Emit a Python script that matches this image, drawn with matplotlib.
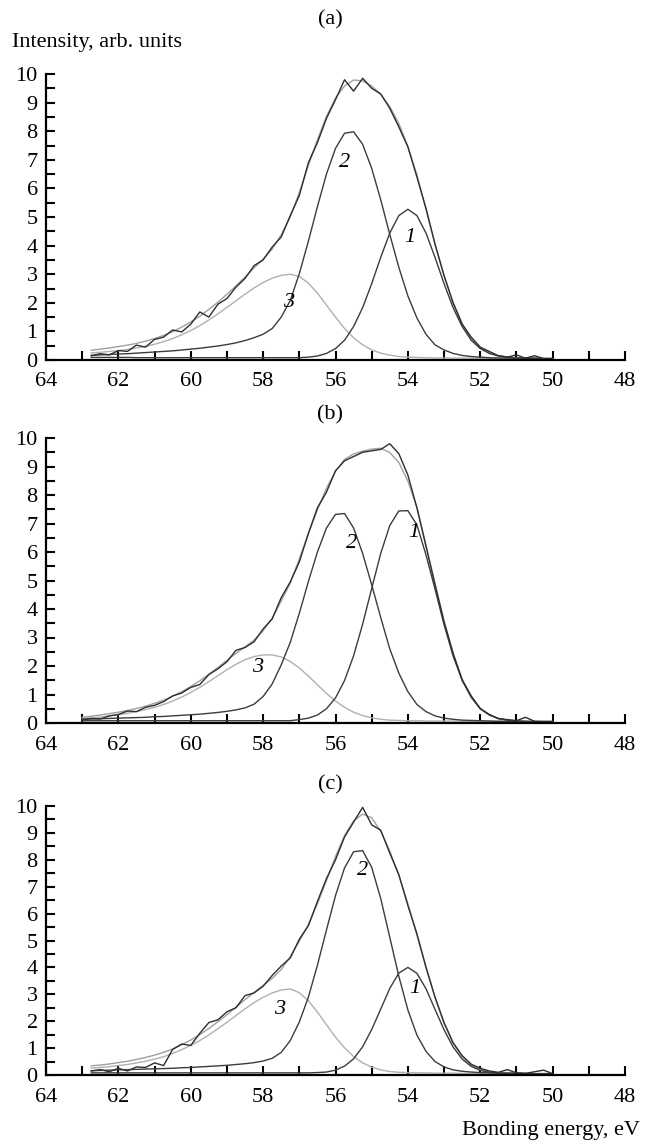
import numpy as np
import matplotlib
matplotlib.use("Agg")
import matplotlib.pyplot as plt
from matplotlib.ticker import MultipleLocator

plt.rcParams['font.family'] = ['Liberation Serif', 'DejaVu Serif']

nan = float('nan')

# Bonding energy grid (eV), left to right on the plot
energy = [63.0, 62.75, 62.5, 62.25, 62.0, 61.75, 61.5, 61.25, 61.0, 60.75, 60.5, 60.25,
          60.0, 59.75, 59.5, 59.25, 59.0, 58.75, 58.5, 58.25, 58.0, 57.75, 57.5, 57.25,
          57.0, 56.75, 56.5, 56.25, 56.0, 55.75, 55.5, 55.25, 55.0, 54.75, 54.5, 54.25,
          54.0, 53.75, 53.5, 53.25, 53.0, 52.75, 52.5, 52.25, 52.0, 51.75, 51.5, 51.25,
          51.0, 50.75, 50.5, 50.25, 50.0]

# ---------- panel (a)
a_exp = [nan, 0.15, 0.22, 0.18, 0.33, 0.30, 0.52, 0.45, 0.72, 0.80, 1.05, 0.98, 1.25,
         1.68, 1.50, 1.95, 2.15, 2.55, 2.85, 3.30, 3.50, 3.95, 4.30, 5.05, 5.75, 6.90,
         7.60, 8.45, 9.10, 9.80, 9.40, 9.85, 9.50, 9.30, 8.80, 8.15, 7.45, 6.40, 5.30,
         4.05, 2.95, 2.00, 1.25, 0.80, 0.45, 0.30, 0.15, 0.10, 0.18, 0.06, 0.15, 0.05, 0.05]
a_env = [nan, 0.34, 0.38, 0.42, 0.47, 0.52, 0.58, 0.66, 0.75, 0.86, 0.99, 1.15, 1.33,
         1.53, 1.77, 2.02, 2.30, 2.59, 2.90, 3.22, 3.53, 3.88, 4.38, 5.00, 5.86, 6.80,
         7.70, 8.51, 9.16, 9.58, 9.79, 9.76, 9.58, 9.29, 8.86, 8.27, 7.47, 6.47, 5.28,
         4.05, 2.95, 2.01, 1.28, 0.75, 0.44, 0.25, 0.15, 0.11, 0.07, 0.07, 0.07, 0.05, 0.05]
a_p1 = [nan, 0.09, 0.09, 0.09, 0.09, 0.09, 0.08, 0.08, 0.08, 0.08, 0.08, 0.08, 0.08,
        0.08, 0.08, 0.08, 0.08, 0.08, 0.08, 0.08, 0.08, 0.08, 0.08, 0.08, 0.08, 0.10,
        0.14, 0.23, 0.40, 0.69, 1.17, 1.83, 2.67, 3.59, 4.44, 5.05, 5.27, 5.05, 4.44,
        3.59, 2.67, 1.83, 1.17, 0.69, 0.40, 0.23, 0.14, 0.10, 0.07, 0.06, 0.06, 0.05, 0.05]
a_p2 = [nan, 0.16, 0.18, 0.19, 0.21, 0.22, 0.24, 0.26, 0.28, 0.30, 0.32, 0.35, 0.38,
        0.41, 0.45, 0.49, 0.54, 0.60, 0.68, 0.78, 0.90, 1.10, 1.50, 2.08, 3.02, 4.15,
        5.36, 6.50, 7.40, 7.93, 7.98, 7.54, 6.70, 5.60, 4.39, 3.24, 2.24, 1.47, 0.90,
        0.53, 0.35, 0.23, 0.16, 0.12, 0.10, 0.08, 0.07, 0.07, 0.06, 0.06, 0.06, 0.05, 0.05]
a_p3 = [nan, 0.25, 0.27, 0.30, 0.33, 0.37, 0.42, 0.48, 0.55, 0.64, 0.75, 0.88, 1.03,
        1.20, 1.40, 1.61, 1.84, 2.07, 2.30, 2.52, 2.71, 2.86, 2.96, 3.00, 2.92, 2.69,
        2.34, 1.92, 1.50, 1.10, 0.78, 0.53, 0.35, 0.24, 0.17, 0.12, 0.10, 0.09, 0.08,
        0.07, 0.07, 0.07, 0.07, 0.06, 0.06, 0.06, 0.06, 0.06, 0.06, 0.05, 0.05, 0.05, 0.05]

# ---------- panel (b)
b_exp = [0.12, 0.16, 0.14, 0.25, 0.30, 0.42, 0.40, 0.55, 0.62, 0.75, 0.95, 1.05, 1.25,
         1.35, 1.70, 1.90, 2.15, 2.55, 2.65, 2.85, 3.30, 3.65, 4.40, 4.95, 5.65, 6.65,
         7.55, 8.10, 8.85, 9.20, 9.35, 9.50, 9.55, 9.60, 9.80, 9.45, 8.70, 7.55, 6.20,
         4.85, 3.55, 2.45, 1.50, 0.95, 0.50, 0.30, 0.15, 0.12, 0.08, 0.20, 0.06, 0.05, 0.05]
b_env = [0.20, 0.24, 0.28, 0.33, 0.38, 0.44, 0.51, 0.59, 0.69, 0.80, 0.94, 1.10, 1.28,
         1.48, 1.71, 1.95, 2.20, 2.44, 2.67, 2.91, 3.24, 3.68, 4.28, 4.91, 5.76, 6.64,
         7.48, 8.24, 8.83, 9.25, 9.44, 9.54, 9.61, 9.64, 9.49, 9.14, 8.49, 7.56, 6.25,
         4.90, 3.57, 2.43, 1.55, 0.93, 0.52, 0.29, 0.16, 0.10, 0.08, 0.06, 0.05, 0.05, 0.05]
b_p1 = [0.08, 0.08, 0.08, 0.08, 0.08, 0.08, 0.08, 0.08, 0.08, 0.08, 0.08, 0.08, 0.08,
        0.08, 0.08, 0.08, 0.08, 0.08, 0.08, 0.08, 0.08, 0.08, 0.08, 0.08, 0.12, 0.17,
        0.28, 0.50, 0.88, 1.49, 2.36, 3.47, 4.72, 5.95, 6.93, 7.44, 7.45, 6.95, 5.90,
        4.70, 3.45, 2.35, 1.50, 0.90, 0.50, 0.28, 0.16, 0.10, 0.07, 0.06, 0.05, 0.05, 0.05]
b_p2 = [0.13, 0.14, 0.15, 0.16, 0.17, 0.18, 0.19, 0.20, 0.22, 0.23, 0.25, 0.27, 0.29,
        0.31, 0.34, 0.37, 0.41, 0.46, 0.53, 0.66, 0.93, 1.37, 2.04, 2.83, 3.85, 4.96,
        6.00, 6.84, 7.32, 7.35, 6.84, 5.95, 4.85, 3.70, 2.60, 1.75, 1.10, 0.65, 0.40,
        0.25, 0.17, 0.13, 0.10, 0.09, 0.08, 0.07, 0.06, 0.06, 0.06, 0.05, 0.05, 0.05, 0.05]
b_p3 = [0.15, 0.18, 0.21, 0.25, 0.29, 0.34, 0.40, 0.47, 0.55, 0.65, 0.77, 0.91, 1.07,
        1.25, 1.45, 1.66, 1.87, 2.06, 2.22, 2.33, 2.39, 2.39, 2.32, 2.16, 1.93, 1.65,
        1.34, 1.04, 0.77, 0.55, 0.38, 0.26, 0.18, 0.13, 0.10, 0.09, 0.08, 0.08, 0.07,
        0.07, 0.07, 0.07, 0.06, 0.06, 0.06, 0.06, 0.06, 0.06, 0.06, 0.05, 0.05, 0.05, 0.05]

# ---------- panel (c)
c_exp = [nan, 0.15, 0.20, 0.12, 0.25, 0.15, 0.30, 0.28, 0.45, 0.35, 0.95, 1.15, 1.10,
         1.55, 1.95, 2.05, 2.35, 2.50, 2.95, 3.05, 3.30, 3.70, 4.05, 4.35, 5.05, 5.55,
         6.45, 7.30, 8.00, 8.85, 9.40, 9.95, 9.30, 9.10, 8.25, 7.45, 6.30, 5.25, 4.00,
         2.90, 1.95, 1.20, 0.72, 0.40, 0.25, 0.15, 0.10, 0.20, 0.08, 0.06, 0.12, 0.18, 0.05]
c_env = [nan, 0.34, 0.37, 0.41, 0.46, 0.51, 0.58, 0.65, 0.74, 0.84, 0.97, 1.13, 1.30,
         1.50, 1.73, 1.98, 2.24, 2.52, 2.80, 3.07, 3.33, 3.59, 3.92, 4.40, 4.97, 5.59,
         6.37, 7.23, 8.12, 8.90, 9.45, 9.70, 9.56, 9.06, 8.33, 7.42, 6.37, 5.20, 4.03,
         2.87, 1.91, 1.18, 0.68, 0.37, 0.20, 0.12, 0.08, 0.07, 0.06, 0.05, 0.05, 0.05, 0.05]
c_p1 = [nan, 0.08, 0.08, 0.08, 0.08, 0.08, 0.08, 0.08, 0.08, 0.08, 0.08, 0.08, 0.08,
        0.08, 0.08, 0.08, 0.08, 0.08, 0.08, 0.08, 0.08, 0.08, 0.08, 0.08, 0.08, 0.08,
        0.09, 0.11, 0.18, 0.33, 0.60, 1.05, 1.69, 2.45, 3.22, 3.79, 4.00, 3.78, 3.21,
        2.44, 1.68, 1.04, 0.59, 0.32, 0.17, 0.10, 0.07, 0.06, 0.06, 0.05, 0.05, 0.05, 0.05]
c_p2 = [nan, 0.16, 0.17, 0.18, 0.19, 0.20, 0.21, 0.22, 0.23, 0.24, 0.25, 0.27, 0.28,
        0.30, 0.32, 0.34, 0.36, 0.39, 0.42, 0.46, 0.52, 0.62, 0.84, 1.28, 1.97, 2.89,
        4.08, 5.39, 6.67, 7.70, 8.30, 8.34, 7.72, 6.56, 5.12, 3.67, 2.42, 1.48, 0.88,
        0.50, 0.30, 0.19, 0.14, 0.11, 0.09, 0.08, 0.07, 0.07, 0.06, 0.06, 0.05, 0.05, 0.05]
c_p3 = [nan, 0.26, 0.28, 0.31, 0.35, 0.39, 0.45, 0.51, 0.59, 0.68, 0.80, 0.94, 1.10,
        1.28, 1.49, 1.72, 1.96, 2.21, 2.46, 2.69, 2.89, 3.05, 3.16, 3.20, 3.06, 2.76,
        2.34, 1.87, 1.41, 1.01, 0.69, 0.45, 0.29, 0.19, 0.13, 0.10, 0.09, 0.08, 0.08,
        0.07, 0.07, 0.07, 0.06, 0.06, 0.06, 0.06, 0.06, 0.06, 0.06, 0.05, 0.05, 0.05, 0.05]

x_ticks = [64, 62, 60, 58, 56, 54, 52, 50, 48]
y_ticks = [0, 1, 2, 3, 4, 5, 6, 7, 8, 9, 10]
panel_titles = ['(a)', '(b)', '(c)']
peak_names = ['1', '2', '3']

panels = [
    (a_exp, a_env, a_p1, a_p2, a_p3),
    (b_exp, b_env, b_p1, b_p2, b_p3),
    (c_exp, c_env, c_p1, c_p2, c_p3),
]

# label positions (energy, intensity) for peak numbers
label_pos = [
    [(53.95, 4.3), (55.75, 6.9), (57.3, 2.0)],
    [(53.85, 6.7), (55.55, 6.3), (58.15, 1.95)],
    [(53.8, 3.2), (55.25, 7.6), (57.55, 2.45)],
]

W, H = 645, 1144
fig = plt.figure(figsize=(W / 100, H / 100), dpi=100)

ax_left = 46 / W
ax_width = (625 - 46) / W
ax_bounds = [(74, 360), (438, 723), (806, 1075)]
title_y = [20, 415, 785]

dark = '#3c3c3c'
light = '#b0b0b0'

for i, (exp, env, p1, p2, p3) in enumerate(panels):
    top, bot = ax_bounds[i]
    ax = fig.add_axes([ax_left, 1 - bot / H, ax_width, (bot - top) / H])
    ax.plot(energy, p3, color=light, lw=1.0)
    ax.plot(energy, env, color='#a0a0a0', lw=1.0)
    ax.plot(energy, p1, color=dark, lw=1.0)
    ax.plot(energy, p2, color=dark, lw=1.0)
    ax.plot(energy, exp, color='#2e2e2e', lw=1.0)

    ax.set_xlim(64, 48)
    ax.set_ylim(0, 10)
    ax.set_xticks(x_ticks)
    ax.set_xticklabels([str(t) for t in x_ticks])
    ax.set_yticks(y_ticks)
    ax.set_yticklabels([str(t) for t in y_ticks])
    ax.xaxis.set_minor_locator(MultipleLocator(1))
    ax.yaxis.set_minor_locator(MultipleLocator(0.5))
    for s in ['top', 'right']:
        ax.spines[s].set_visible(False)
    for s in ['left', 'bottom']:
        ax.spines[s].set_linewidth(1.6)
    ax.tick_params(which='both', direction='in', length=6.5, width=1.5, labelsize=16)
    ax.tick_params(axis='x', which='major', pad=9)
    ax.tick_params(axis='y', which='major', pad=6)
    ax.patch.set_alpha(0)

    for name, (ex, ey) in zip(peak_names, label_pos[i]):
        ax.text(ex, ey, name, fontsize=16, style='italic', ha='center', va='center')

    fig.text(330 / W, 1 - title_y[i] / H, panel_titles[i], fontsize=16,
             ha='center', va='center')

fig.text(12 / W, 1 - 43 / H, 'Intensity, arb. units', fontsize=16, ha='left', va='center')
fig.text(640 / W, 1 - 1130 / H, 'Bonding energy, eV', fontsize=16, ha='right', va='center')

fig.savefig('out.png', dpi=100)
